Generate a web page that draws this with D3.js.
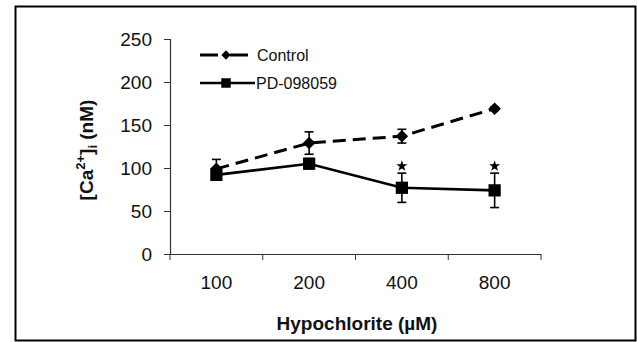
<!DOCTYPE html>
<html>
<head>
<meta charset="utf-8">
<script src="https://cdn.jsdelivr.net/npm/d3@7"></script>
<style>
  body { margin: 0; background: #fff; }
  svg { display: block; font-family: "Liberation Sans", Arial, sans-serif; }
</style>
</head>
<body>
<svg id="chart" width="637" height="342"></svg>
<script>
// values
const categories = ['100', '200', '400', '800'];
const controlMean = [99, 129, 137, 169];
const controlErr = [11, 13, 8, 2];
const pdMean = [92, 105, 77, 74];
const pdErr = [4, 6, 17, 20];
const significant = [false, false, true, true];
const yTicks = [0, 50, 100, 150, 200, 250];

const svg = d3.select('#chart');

// outer frame
svg.append('rect')
  .attr('x', 15.5).attr('y', 6.5)
  .attr('width', 620).attr('height', 334)
  .attr('fill', 'none')
  .attr('stroke', '#000')
  .attr('stroke-width', 2);

const x = d3.scaleBand().domain(categories).range([170, 541]).padding(0);
const y = d3.scaleLinear().domain([0, 250]).range([254, 39]);
const cx = d => x(d) + x.bandwidth() / 2;

// axes
const yAxis = svg.append('g')
  .attr('transform', 'translate(170,0)')
  .call(d3.axisLeft(y).tickValues(yTicks).tickSize(6).tickPadding(12));
const xAxis = svg.append('g')
  .attr('transform', 'translate(0,254)')
  .call(d3.axisBottom(x).tickSize(0).tickPadding(22));

// category boundary ticks (Excel style, between categories)
xAxis.selectAll('.bound')
  .data(categories.concat(['end']))
  .enter()
  .append('line')
  .attr('class', 'bound')
  .attr('x1', (d, i) => i < categories.length ? x(d) : x.range()[1])
  .attr('x2', (d, i) => i < categories.length ? x(d) : x.range()[1])
  .attr('y1', 0).attr('y2', 6)
  .attr('stroke', '#333');

[yAxis, xAxis].forEach(a => {
  a.select('.domain').attr('stroke', '#333').attr('stroke-width', 1.2);
  a.selectAll('.tick line').attr('stroke', '#333');
  a.selectAll('text')
    .attr('font-family', '"Liberation Sans", Arial, sans-serif')
    .attr('font-size', 19)
    .attr('fill', '#111');
});

// axis titles
svg.append('text')
  .attr('x', 357).attr('y', 330)
  .attr('text-anchor', 'middle')
  .attr('font-size', 19)
  .attr('font-weight', 'bold')
  .attr('fill', '#111')
  .text('Hypochlorite (µM)');

const yTitle = svg.append('text')
  .attr('transform', 'translate(93,150) rotate(-90)')
  .attr('text-anchor', 'middle')
  .attr('font-size', 19)
  .attr('font-weight', 'bold')
  .attr('fill', '#111');
yTitle.append('tspan').text('[Ca');
yTitle.append('tspan').attr('font-size', 13).attr('dy', -8).text('2+');
yTitle.append('tspan').attr('dy', 8).text(']');
yTitle.append('tspan').attr('font-size', 13).attr('dy', 4).text('i');
yTitle.append('tspan').attr('dy', -4).text(' (nM)');

const line = d3.line()
  .x(d => cx(d.cat))
  .y(d => y(d.v));

const control = categories.map((c, i) => ({cat: c, v: controlMean[i], e: controlErr[i]}));
const pd = categories.map((c, i) => ({cat: c, v: pdMean[i], e: pdErr[i], sig: significant[i]}));

// error bars
function errorBars(data) {
  const g = svg.append('g').attr('stroke', '#000').attr('stroke-width', 1.6);
  g.selectAll('line.v').data(data).enter().append('line')
    .attr('x1', d => cx(d.cat)).attr('x2', d => cx(d.cat))
    .attr('y1', d => y(d.v - d.e)).attr('y2', d => y(d.v + d.e));
  g.selectAll('line.t').data(data).enter().append('line')
    .attr('x1', d => cx(d.cat) - 4.5).attr('x2', d => cx(d.cat) + 4.5)
    .attr('y1', d => y(d.v + d.e)).attr('y2', d => y(d.v + d.e));
  g.selectAll('line.b').data(data).enter().append('line')
    .attr('x1', d => cx(d.cat) - 4.5).attr('x2', d => cx(d.cat) + 4.5)
    .attr('y1', d => y(d.v - d.e)).attr('y2', d => y(d.v - d.e));
}
errorBars(control);
errorBars(pd);

svg.append('path')
  .datum(control)
  .attr('d', line)
  .attr('fill', 'none')
  .attr('stroke', '#000')
  .attr('stroke-width', 3)
  .attr('stroke-dasharray', '13,7');

svg.append('path')
  .datum(pd)
  .attr('d', line)
  .attr('fill', 'none')
  .attr('stroke', '#000')
  .attr('stroke-width', 2.6);

const diamond = d3.symbol().type(d3.symbolDiamond2).size(100);
const square = d3.symbol().type(d3.symbolSquare).size(150);

svg.append('g').selectAll('path')
  .data(control).enter().append('path')
  .attr('d', diamond)
  .attr('transform', d => `translate(${cx(d.cat)},${y(d.v)})`)
  .attr('fill', '#000');

svg.append('g').selectAll('path')
  .data(pd).enter().append('path')
  .attr('d', square)
  .attr('transform', d => `translate(${cx(d.cat)},${y(d.v)})`)
  .attr('fill', '#000');

// significance stars
svg.append('g').selectAll('path')
  .data(pd.filter(d => d.sig)).enter().append('path')
  .attr('d', d3.symbol().type(d3.symbolStar).size(38))
  .attr('transform', d => `translate(${cx(d.cat)},${y(d.v + d.e) - 7})`)
  .attr('fill', '#000');

// legend
const legend = svg.append('g').attr('class', 'legend');
legend.append('line')
  .attr('x1', 200).attr('x2', 248).attr('y1', 55).attr('y2', 55)
  .attr('stroke', '#000').attr('stroke-width', 3)
  .attr('stroke-dasharray', '18,12');
legend.append('path')
  .attr('d', d3.symbol().type(d3.symbolDiamond2).size(55))
  .attr('transform', 'translate(226,55)');
legend.append('text')
  .attr('x', 257).attr('y', 61)
  .attr('font-size', 16).attr('fill', '#111')
  .text('Control');

legend.append('line')
  .attr('x1', 200).attr('x2', 255).attr('y1', 83).attr('y2', 83)
  .attr('stroke', '#000').attr('stroke-width', 2.6);
legend.append('path')
  .attr('d', d3.symbol().type(d3.symbolSquare).size(90))
  .attr('transform', 'translate(226,83)');
legend.append('text')
  .attr('x', 256).attr('y', 89)
  .attr('font-size', 16).attr('fill', '#111')
  .text('PD-098059');
</script>
</body>
</html>
